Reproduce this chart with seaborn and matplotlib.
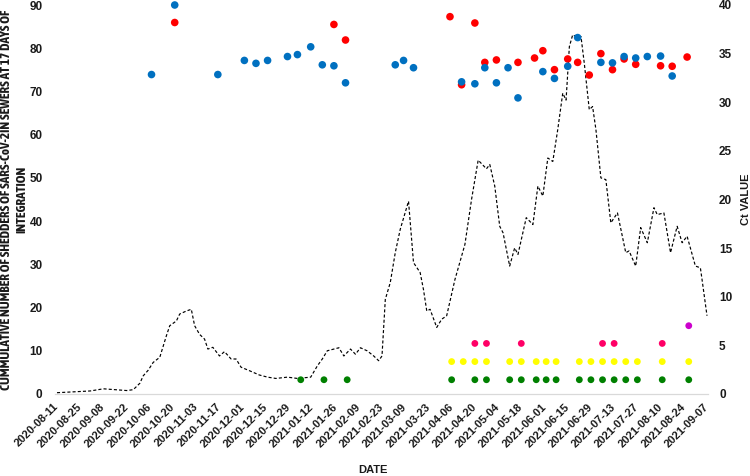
import pandas as pd
import matplotlib.pyplot as plt
import seaborn as sns
from matplotlib import font_manager

# --- DATA ---
START = pd.Timestamp("2020-08-11")

# dashed curve: days after 2020-08-11, cumulative shedders (left axis)
line_days = [0, 10, 20, 28, 35, 42, 46, 50, 52, 55, 58, 62, 66, 68, 72, 74, 78, 81,
             83, 86, 89, 91, 94, 98, 101, 105, 108, 111, 116, 122, 127, 132, 139, 145,
             153, 157, 160, 163, 167, 170, 173, 177, 180, 183, 187, 191, 194, 196, 198,
             201, 204, 207, 212, 215, 219, 221, 223, 225, 229, 232, 235, 240, 246, 250,
             254, 259, 261, 264, 267, 269, 273, 276, 278, 283, 287, 290, 293, 296, 299,
             302, 305, 307, 309, 311, 314, 316, 318, 321, 323, 325, 328, 331, 334, 338,
             343, 345, 349, 352, 356, 360, 362, 366, 370, 374, 377, 380, 385, 388, 389, 392]
line_vals = [0.3, 0.5, 0.7, 1.2, 1.0, 0.8, 1.0, 2.5, 4.2, 5.5, 7.3, 8.5, 13.5, 15.8, 16.9, 18.5, 19.2, 19.6,
             15.8, 13.8, 12.7, 10.4, 10.8, 8.8, 9.8, 8.1, 8.1, 6.2, 5.4, 4.4, 3.9, 3.6, 3.9, 3.6,
             3.9, 6.5, 8.1, 10.0, 10.4, 10.7, 8.8, 10.4, 9.2, 10.7, 10.0, 8.8, 7.7, 8.8, 21.9,
             25.8, 32.7, 38.1, 44.6, 30.4, 28.1, 24.2, 19.2, 19.6, 15.4, 17.3, 18.1, 26.5, 34.6, 45.0,
             54.1, 52.1, 53.1, 48.1, 38.8, 37.3, 29.6, 33.8, 32.3, 40.8, 39.2, 48.1, 45.8, 54.6, 53.8,
             61.2, 69.6, 68.0, 80.4, 83.1, 82.5, 82.7, 76.5, 65.8, 66.5, 61.2, 50.0, 49.6, 39.6, 41.9,
             32.7, 33.1, 29.6, 38.5, 35.0, 43.1, 41.5, 41.9, 32.7, 38.8, 35.0, 36.5, 29.6, 29.2, 26.5, 18.1]

# Ct values (right axis)
blue_dates = ["2020-10-07", "2020-10-21", "2020-11-16", "2020-12-02", "2020-12-09", "2020-12-16",
              "2020-12-28", "2021-01-03", "2021-01-11", "2021-01-18", "2021-01-25", "2021-02-01",
              "2021-03-03", "2021-03-08", "2021-03-14", "2021-04-12", "2021-04-20", "2021-04-26",
              "2021-05-03", "2021-05-10", "2021-05-16", "2021-05-31", "2021-06-07", "2021-06-15",
              "2021-06-21", "2021-07-05", "2021-07-12", "2021-07-19", "2021-07-26", "2021-08-02",
              "2021-08-10", "2021-08-17"]
blue_ct = [32.85, 40.0, 32.85, 34.3, 34.0, 34.3, 34.7, 34.9, 35.7, 33.85, 33.75, 32.0,
           33.85, 34.3, 33.55, 32.1, 31.9, 33.55, 32.0, 33.55, 30.45, 33.15, 32.45, 33.7,
           36.65, 34.1, 34.05, 34.7, 34.55, 34.7, 34.75, 32.7]

red_dates = ["2020-10-21", "2021-01-25", "2021-02-01", "2021-04-05", "2021-04-12", "2021-04-20",
             "2021-04-26", "2021-05-03", "2021-05-16", "2021-05-26", "2021-05-31", "2021-06-07",
             "2021-06-15", "2021-06-21", "2021-06-28", "2021-07-05", "2021-07-12", "2021-07-19",
             "2021-07-26", "2021-08-10", "2021-08-17", "2021-08-26"]
red_ct = [38.2, 38.0, 36.4, 38.8, 31.8, 38.15, 34.1, 34.35, 34.1, 34.55, 35.3, 33.35,
          34.45, 34.1, 32.8, 35.0, 33.35, 34.45, 33.9, 33.75, 33.7, 34.65]

# indicator dots along the bottom (left axis)
green_dates = ["2021-01-05", "2021-01-19", "2021-02-02", "2021-04-06", "2021-04-20", "2021-04-27",
               "2021-05-11", "2021-05-18", "2021-05-27", "2021-06-02", "2021-06-08", "2021-06-22",
               "2021-06-29", "2021-07-06", "2021-07-13", "2021-07-20", "2021-07-27", "2021-08-11",
               "2021-08-27"]
yellow_dates = ["2021-04-06", "2021-04-13", "2021-04-20", "2021-04-27", "2021-05-11", "2021-05-18",
                "2021-05-27", "2021-06-02", "2021-06-08", "2021-06-22", "2021-06-29", "2021-07-06",
                "2021-07-13", "2021-07-20", "2021-07-27", "2021-08-11", "2021-08-27"]
pink_dates = ["2021-04-20", "2021-04-27", "2021-05-18", "2021-07-06", "2021-07-13", "2021-08-11"]
purple_dates = ["2021-08-27"]
green_level, yellow_level, pink_level, purple_level = 3.3, 7.5, 11.7, 15.8

tick_dates = pd.date_range("2020-08-11", "2021-09-07", freq="14D")

# --- STYLE ---
def is_bold(w):
    return (isinstance(w, (int, float)) and w >= 600) or str(w).lower() in ("bold", "heavy", "black", "semibold", "demibold")

# a condensed family that has a bold face, for the very long axis title
narrow = sorted({f.name for f in font_manager.fontManager.ttflist
                 if ("Narrow" in f.name or "Condensed" in f.name) and is_bold(f.weight)})
FONT = "Liberation Sans"
sns.set_theme(style="white")
plt.rcParams["font.family"] = [FONT, "DejaVu Sans"]
TXT = "#1a1a1a"

fig = plt.figure(figsize=(7.5, 4.76), dpi=100)
ax = fig.add_axes([55 / 750, 1 - 394 / 476, 653 / 750, 389 / 476])
ax2 = ax.twinx()

line_x = START + pd.to_timedelta(line_days, unit="D")
sns.lineplot(x=line_x, y=line_vals, ax=ax, color="black", linewidth=0.85)
ax.lines[0].set_dashes([2.6, 1.8])

def dots(axis, dates, vals, color, size):
    sns.scatterplot(x=pd.to_datetime(dates), y=vals, ax=axis, color=color, s=size,
                    edgecolor="none", linewidth=0, clip_on=False, zorder=3)

dots(ax, green_dates, [green_level] * len(green_dates), "#008000", 24)
dots(ax, yellow_dates, [yellow_level] * len(yellow_dates), "#FFFF00", 24)
dots(ax, pink_dates, [pink_level] * len(pink_dates), "#FF0066", 24)
dots(ax, purple_dates, [purple_level] * len(purple_dates), "#CC00CC", 24)
dots(ax2, red_dates, red_ct, "#FF0000", 30)
dots(ax2, blue_dates, blue_ct, "#0070C0", 30)

ax.set_xlim(START - pd.Timedelta(days=1.2), START + pd.Timedelta(days=392.6))
ax.set_ylim(0, 90)
ax2.set_ylim(0, 40)
ax.set_yticks(range(0, 91, 10))
ax2.set_yticks(range(0, 41, 5))
ax.set_xticks(tick_dates)
ax.set_xticklabels([d.strftime("%Y-%m-%d") for d in tick_dates], rotation=45, ha="right",
                   va="center", rotation_mode="anchor")

for a in (ax, ax2):
    for s in a.spines.values():
        s.set_visible(False)
ax.spines["bottom"].set_visible(True)
ax.spines["bottom"].set_color("#D9D9D9")
ax.spines["bottom"].set_linewidth(0.9)

ax.tick_params(axis="y", length=0, pad=9, labelsize=8.5, labelcolor=TXT)
ax.tick_params(axis="x", length=0, pad=8, labelsize=8, labelcolor=TXT)
ax2.tick_params(axis="y", length=0, pad=8, labelsize=8.5, labelcolor=TXT)
for lab in ax.get_xticklabels() + ax.get_yticklabels() + ax2.get_yticklabels():
    lab.set_fontweight("bold")

ax.set_xlabel("")
ylab = ax.set_ylabel("CUMMULATIVE NUMBER OF SHEDDERS OF SARS-CoV-2IN SEWERS AT 17 DAYS OF\nINTEGRATION",
                     fontsize=8, fontweight="bold", color=TXT, linespacing=1.25,
                     va="center", ha="center")
if narrow:
    ylab.set_family([narrow[0], FONT])
ax.yaxis.set_label_coords(-0.062, 0.5)
ax2.set_ylabel("Ct VALUE", fontsize=8, fontweight="bold", color=TXT)
ax2.yaxis.set_label_coords(1.051, 0.5)
fig.text(373 / 750, 1 - 470 / 476, "DATE", ha="center", va="center", fontsize=8,
         fontweight="bold", color=TXT)

# size the long axis title so it runs the full plot height, as in the reference
fig.canvas.draw()
span = ylab.get_window_extent().height
ylab.set_fontsize(min(8 * 388 / span, 9.5))

fig.savefig("out.png", dpi=100)
